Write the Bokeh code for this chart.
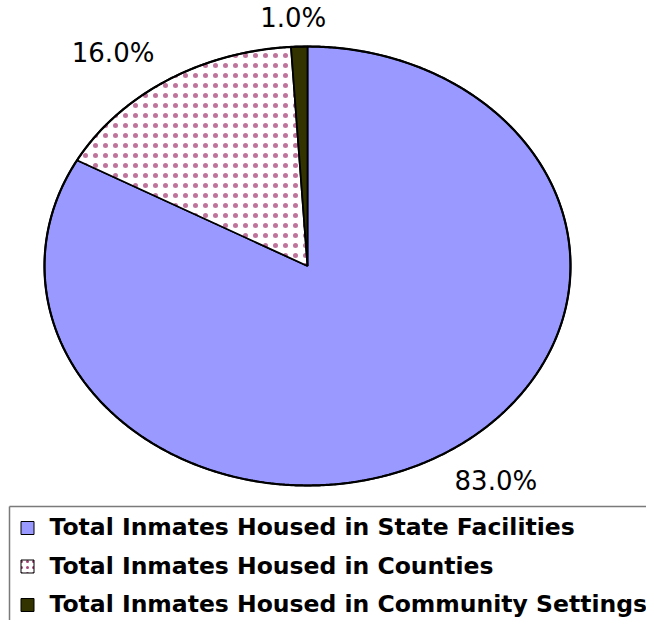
import numpy as np
from bokeh.plotting import figure
from bokeh.models import Range1d, ColumnDataSource
from bokeh.core.properties import value
from bokeh.embed import file_html
from bokeh.resources import INLINE

# ---- data ----
categories = [
    "Total Inmates Housed in State Facilities",
    "Total Inmates Housed in Counties",
    "Total Inmates Housed in Community Settings",
]
shares = [83.0, 16.0, 1.0]
labels = ["83.0%", "16.0%", "1.0%"]

# ---- style / layout ----
fills = ["#9999FF", "#FFFFFF", "#333300"]
hatches = ["blank", "dot", "blank"]
HATCH_COLOR = "#A8467A"
CX, CY, RX, RY = 307.0, 265.5, 263.0, 219.5     # picture pixels
START_DEG = 90.0
LABEL_OFFSETS = [(54.5, 26.0), (-53.5, -27.5), (-6.0, -28.5)]
LEG_X_MARK, LEG_X_TEXT = 27.0, 49.0
LEG_Y0, LEG_DY = 527.5, 38.5
LEG_TEXT_DY = -0.7
BOX_LEFT, BOX_TOP = 9, 506

W, H = 646, 620
p = figure(width=W, height=H, output_backend="svg", toolbar_location=None,
           x_range=Range1d(0, W), y_range=Range1d(H, 0),
           min_border=0, outline_line_color=None, background_fill_color="white",
           border_fill_color="white")
p.axis.visible = False
p.grid.visible = False

total = sum(shares)
xs, ys, mids = [], [], []
a = START_DEG
for s in shares:
    sweep = 360.0 * s / total
    a0, a1 = a, a - sweep           # clockwise
    n = max(4, int(sweep * 3))
    th = np.radians(np.linspace(a0, a1, n))
    px = np.concatenate([[CX], CX + RX * np.cos(th)])
    py = np.concatenate([[CY], CY - RY * np.sin(th)])
    xs.append(list(px)); ys.append(list(py))
    mids.append(np.radians((a0 + a1) / 2))
    a = a1

src = ColumnDataSource(dict(xs=xs, ys=ys, fill=fills, hatch=hatches, name=categories))
p.patches("xs", "ys", source=src, fill_color="fill", line_color="black", line_width=1.8,
          hatch_pattern="hatch", hatch_color=HATCH_COLOR, hatch_alpha=0.75,
          hatch_scale=10, hatch_weight=0.5)

# outer outline
th = np.radians(np.linspace(0, 360, 721))
p.line(CX + RX * np.cos(th), CY - RY * np.sin(th), line_color="black", line_width=2.2)

# percentage labels
lx = [CX + RX * np.cos(m) + o[0] for m, o in zip(mids, LABEL_OFFSETS)]
ly = [CY - RY * np.sin(m) + o[1] for m, o in zip(mids, LABEL_OFFSETS)]
p.text(lx, ly, text=labels, text_align="center", text_baseline="alphabetic",
       text_font=value("DejaVu Sans"), text_font_size="26px", text_color="black")

# legend box (open to the right and bottom, as in the reference crop)
p.segment(x0=[BOX_LEFT, BOX_LEFT], y0=[BOX_TOP, BOX_TOP], x1=[W + 20, BOX_LEFT], y1=[BOX_TOP, H + 20],
          line_color="#7a7a7a", line_width=1.5)

ly_rows = [LEG_Y0 + i * LEG_DY for i in range(len(categories))]
p.rect([LEG_X_MARK] * 3, ly_rows, width=13, height=13, width_units="screen",
       height_units="screen", fill_color=fills, line_color="black", line_width=1,
       hatch_pattern=hatches, hatch_color=HATCH_COLOR, hatch_scale=6, hatch_weight=0.6)
p.text([LEG_X_TEXT] * 3, [y + LEG_TEXT_DY for y in ly_rows], text=categories, text_align="left",
       text_baseline="alphabetic", text_font=value("DejaVu Sans"), text_font_size="23.5px",
       text_font_style="bold", text_color="black")

open("out.html", "w").write(file_html(p, INLINE))
